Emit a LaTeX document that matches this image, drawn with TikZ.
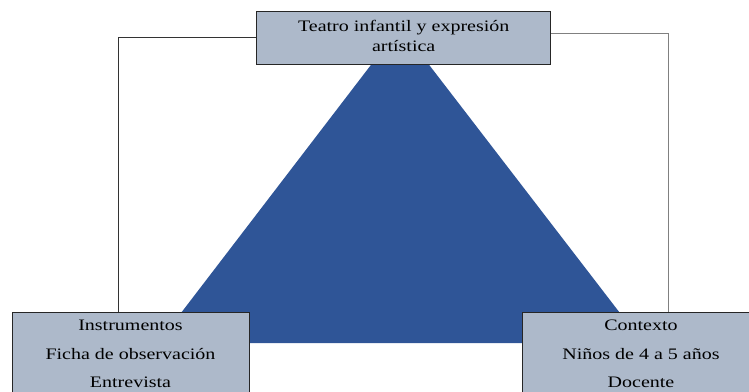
\documentclass[tikz,border=0pt]{standalone}
\usepackage{fontspec}
\setmainfont{Liberation Serif}[FakeStretch=1.25]
\definecolor{boxfill}{HTML}{ADB9CA}
\definecolor{trifill}{HTML}{2F5597}
\definecolor{linegray}{HTML}{555555}
\begin{document}
\begin{tikzpicture}[x=1pt,y=1pt,
  box/.style={draw=black!85, line width=1pt, fill=boxfill, align=center, inner sep=0pt},
  conn/.style={draw=linegray, line width=1pt}]
\useasboundingbox (0,0) rectangle (749,-391);
\clip (0,0) rectangle (749,-391);
\fill[trifill] (400,-27) -- (643,-343) -- (158,-343) -- cycle;
\node[box, minimum width=294pt, minimum height=52.7pt,
  font=\fontsize{16}{19.5}\selectfont] (top) at (403.7,-37.65)
  {Teatro infantil y expresión\\artística\rule[-4pt]{0pt}{0pt}};
\node[box, minimum width=237pt, minimum height=84pt,
  font=\fontsize{16}{28.3}\selectfont] (lbox) at (130.5,-354)
  {Instrumentos\\Ficha de observación\\Entrevista};
\node[box, minimum width=238pt, minimum height=84pt,
  font=\fontsize{16}{28.3}\selectfont] (rbox) at (641,-354)
  {Contexto\\Niños de 4 a 5 años\\Docente};
\coordinate (lc) at (118,-312);
\coordinate (rc) at (668.5,-312);
\draw[conn, draw=black!80] (top.west) -| (lc);
\draw[conn, draw=gray] ([yshift=4pt]top.east) -| (rc);
\end{tikzpicture}
\end{document}
